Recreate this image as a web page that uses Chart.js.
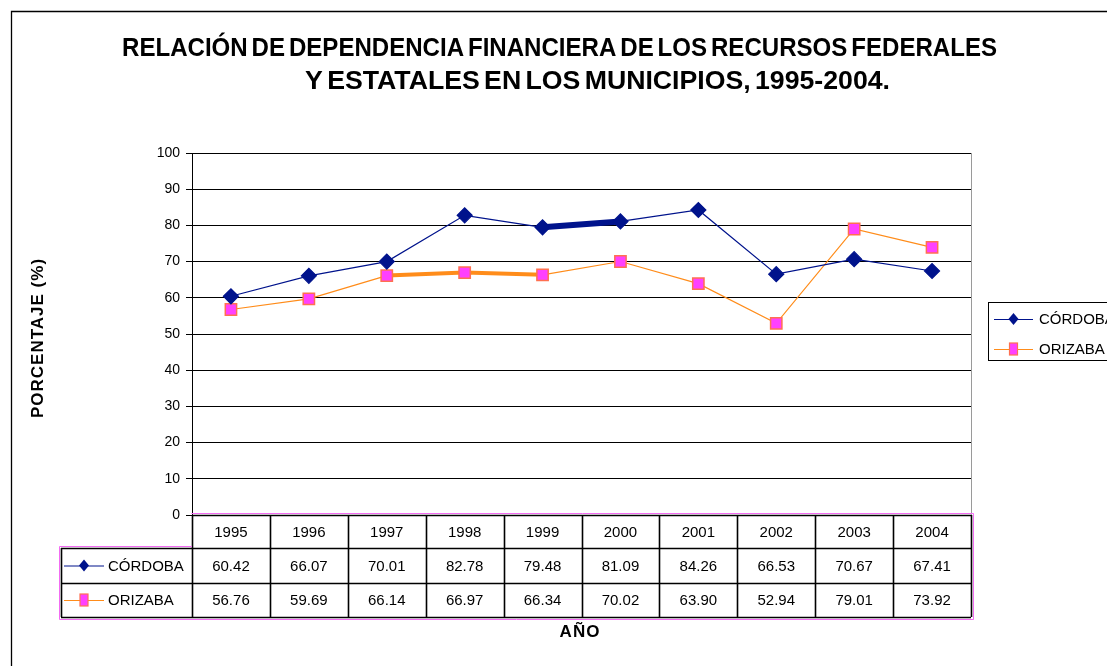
<!DOCTYPE html>
<html>
<head>
<meta charset="utf-8">
<script src="https://cdn.jsdelivr.net/npm/chart.js@4"></script>
<style>
  body { margin: 0; background: #fff; }
  canvas { display: block; }
</style>
</head>
<body>
<canvas id="chart" width="1107" height="666"></canvas>
<script>
// --- DATA ---
const years = ['1995', '1996', '1997', '1998', '1999', '2000', '2001', '2002', '2003', '2004'];
const cordoba = [60.42, 66.07, 70.01, 82.78, 79.48, 81.09, 84.26, 66.53, 70.67, 67.41];
const orizaba = [56.76, 59.69, 66.14, 66.97, 66.34, 70.02, 63.90, 52.94, 79.01, 73.92];
const seriesNames = ['CÓRDOBA', 'ORIZABA'];
const titleLines = ['RELACIÓN DE DEPENDENCIA FINANCIERA DE LOS RECURSOS FEDERALES', 'Y ESTATALES EN LOS MUNICIPIOS, 1995-2004.'];

const NAVY = '#00138c';
const ORANGE = '#ff8c1a';
const PINK = '#ff40ff';
const PINK_EDGE = '#ff7050';
const FONT = '"Liberation Sans", Arial, sans-serif';

// draws a small legend key (line + marker) centred between x0 and x1
function drawKey(ctx, x0, x1, y, idx) {
    ctx.save();
    ctx.lineWidth = 1.2;
    ctx.strokeStyle = idx === 0 ? NAVY : ORANGE;
    ctx.beginPath(); ctx.moveTo(x0, y + 0.5); ctx.lineTo(x1, y + 0.5); ctx.stroke();
    const cx = (x0 + x1) / 2;
    if (idx === 0) {
        ctx.fillStyle = NAVY;
        ctx.beginPath();
        ctx.moveTo(cx, y - 6); ctx.lineTo(cx + 5, y); ctx.lineTo(cx, y + 6); ctx.lineTo(cx - 5, y);
        ctx.closePath(); ctx.fill();
    } else {
        ctx.fillStyle = PINK;
        ctx.fillRect(cx - 4, y - 6, 8, 12);
        ctx.strokeStyle = PINK_EDGE;
        ctx.strokeRect(cx - 4, y - 6, 8, 12);
    }
    ctx.restore();
}

// --- PLUGIN: frame, title, axis titles, legend, data table ---
const decorations = {
    id: 'decorations',
    beforeDraw(chart) {
        const ctx = chart.ctx;
        ctx.save();
        ctx.fillStyle = '#fff';
        ctx.fillRect(0, 0, chart.width, chart.height);
        ctx.strokeStyle = '#000';
        ctx.lineWidth = 1.3;
        ctx.beginPath();
        ctx.moveTo(11.5, chart.height); ctx.lineTo(11.5, 11.5); ctx.lineTo(chart.width, 11.5);
        ctx.stroke();
        ctx.restore();
    },
    afterDraw(chart) {
        const ctx = chart.ctx;
        const area = chart.chartArea;
        const xs = chart.scales.x;

        ctx.save();
        // right border of plot
        ctx.strokeStyle = '#9a9a9a';
        ctx.lineWidth = 1;
        ctx.beginPath(); ctx.moveTo(area.right + 0.5, area.top); ctx.lineTo(area.right + 0.5, area.bottom); ctx.stroke();

        // title, squeezed horizontally like the original condensed font
        ctx.fillStyle = '#000';
        ctx.font = 'bold 26px ' + FONT;
        ctx.wordSpacing = '-3px';
        ctx.textBaseline = 'alphabetic';
        ctx.textAlign = 'left';
        const titlePos = [[122, 997, 56], [305, 890, 89]];
        titleLines.forEach((t, i) => {
            const [x0, x1, y] = titlePos[i];
            const w = ctx.measureText(t).width;
            ctx.save();
            ctx.translate(x0, y);
            ctx.scale((x1 - x0) / w, 1);
            ctx.fillText(t, 0, 0);
            ctx.restore();
        });
        ctx.wordSpacing = '0px';

        // y axis title
        ctx.save();
        ctx.translate(38, 338);
        ctx.rotate(-Math.PI / 2);
        ctx.font = 'bold 17px ' + FONT;
        ctx.letterSpacing = '1px';
        ctx.textAlign = 'center';
        ctx.textBaseline = 'middle';
        ctx.fillText('PORCENTAJE (%)', 0, 0);
        ctx.restore();

        // x axis title
        ctx.save();
        ctx.font = 'bold 17px ' + FONT;
        ctx.letterSpacing = '1px';
        ctx.textAlign = 'center';
        ctx.textBaseline = 'middle';
        ctx.fillText('AÑO', 580, 632);
        ctx.restore();

        // legend box on the right
        ctx.strokeStyle = '#000';
        ctx.lineWidth = 1;
        ctx.strokeRect(988.5, 302.5, 140, 58);
        ctx.font = '15px ' + FONT;
        ctx.textAlign = 'left';
        ctx.textBaseline = 'middle';
        seriesNames.forEach((name, i) => {
            const y = 319 + i * 30;
            drawKey(ctx, 994, 1033, y, i);
            ctx.fillStyle = '#000';
            ctx.fillText(name, 1039, y + 1);
        });

        // data table under the plot
        const rows = [area.bottom, 548, 583, 617];
        const colW = (area.right - area.left) / years.length;
        const labelLeft = 61;
        ctx.font = '15px ' + FONT;
        ctx.textAlign = 'center';
        ctx.fillStyle = '#000';
        const tableVals = [cordoba, orizaba];
        years.forEach((yr, i) => {
            const cx = xs.getPixelForValue(i);
            ctx.fillText(yr, cx, (rows[0] + rows[1]) / 2 + 1);
            tableVals.forEach((vals, r) => {
                ctx.fillText(vals[i].toFixed(2), cx, (rows[r + 1] + rows[r + 2]) / 2 + 1);
            });
        });
        seriesNames.forEach((name, r) => {
            const y = (rows[r + 1] + rows[r + 2]) / 2;
            drawKey(ctx, 64, 104, y, r);
            ctx.fillStyle = '#000';
            ctx.textAlign = 'left';
            ctx.fillText(name, 108, y + 1);
        });

        // table grid
        ctx.strokeStyle = '#000';
        ctx.lineWidth = 1.6;
        ctx.beginPath();
        for (let i = 0; i <= years.length; i++) {
            const x = Math.round(area.left + i * colW) + 0.5;
            ctx.moveTo(x, rows[0]); ctx.lineTo(x, rows[3]);
        }
        rows.forEach((y, k) => {
            ctx.moveTo(k === 0 ? area.left : labelLeft, y + 0.5);
            ctx.lineTo(area.right, y + 0.5);
        });
        ctx.moveTo(labelLeft + 0.5, rows[1]); ctx.lineTo(labelLeft + 0.5, rows[3]);
        ctx.stroke();
        // pink outline like the original
        ctx.strokeStyle = '#f36cf3';
        ctx.lineWidth = 1;
        ctx.beginPath();
        ctx.moveTo(area.left - 0.5, rows[0] - 1.5); ctx.lineTo(area.right + 2.5, rows[0] - 1.5);
        ctx.lineTo(area.right + 2.5, rows[3] + 2.5); ctx.lineTo(labelLeft - 1.5, rows[3] + 2.5);
        ctx.lineTo(labelLeft - 1.5, rows[1] - 1.5); ctx.lineTo(area.left, rows[1] - 1.5);
        ctx.stroke();
        ctx.restore();
    }
};

new Chart(document.getElementById('chart'), {
    type: 'line',
    data: {
        labels: years,
        datasets: [{
            label: seriesNames[0],
            data: cordoba,
            borderColor: NAVY,
            backgroundColor: NAVY,
            borderWidth: 1.2,
            pointStyle: 'rectRot',
            pointRadius: 7.5,
            pointBackgroundColor: NAVY,
            pointBorderColor: NAVY,
            segment: { borderWidth: ctx => ctx.p0DataIndex === 4 ? 6 : 1.2 }
        }, {
            label: seriesNames[1],
            data: orizaba,
            borderColor: ORANGE,
            backgroundColor: PINK,
            borderWidth: 1.2,
            pointStyle: 'rect',
            pointRadius: 8,
            pointBorderWidth: 1.5,
            pointBackgroundColor: PINK,
            pointBorderColor: PINK_EDGE,
            segment: { borderWidth: ctx => (ctx.p0DataIndex === 2 || ctx.p0DataIndex === 3) ? 4 : 1.2 }
        }]
    },
    options: {
        responsive: false,
        animation: false,
        layout: { padding: { left: 0, top: 153, right: 136, bottom: 151 } },
        plugins: { legend: { display: false }, title: { display: false }, tooltip: { enabled: false } },
        scales: {
            x: { display: false, offset: true },
            y: {
                min: 0, max: 100,
                afterFit: s => { s.width = 192; },
                ticks: { stepSize: 10, color: '#000', padding: 6, font: { family: FONT, size: 14 } },
                grid: { color: '#000', lineWidth: 1, tickLength: 6 },
                border: { color: '#000', width: 1 }
            }
        }
    },
    plugins: [decorations]
});
</script>
</body>
</html>
